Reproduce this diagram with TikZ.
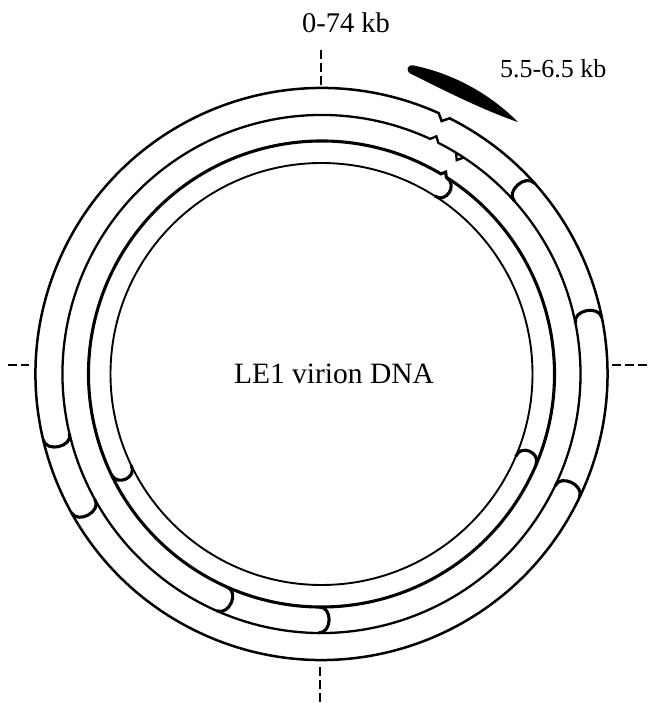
\documentclass[tikz,border=0pt]{standalone}
\usepackage{fontspec}
\setmainfont{Liberation Serif}
\begin{document}
\begin{tikzpicture}[x=1pt,y=1pt]
    \tikzstyle{ring}=[line width=2.5pt]; \tikzstyle{fragend}=[line width=3.1pt];
    \tikzstyle{axistick}=[line width=2pt,dash pattern=on 9pt off 4pt];
    \tikzstyle{kbtext}=[inner sep=0pt,anchor=base];
    \useasboundingbox (-321.5,-329) rectangle (325.5,374);

    \draw[ring] (65.8:286pt) arc[start angle=65.8,end angle=423.4,radius=286pt]
      -- (64.6:280pt) -- cycle;
    \draw[ring,line width=2.3pt] (65.2:259pt) arc[start angle=65.2,end angle=418.7,radius=259pt]
      -- (57.7:253pt) -- (56.7:259pt) arc[start angle=56.7,end angle=63.2,radius=259pt]
      -- (64.2:264pt) -- cycle;
    \draw[ring,line width=3.1pt] (59.2:233pt) arc[start angle=59.2,end angle=417.6,radius=233pt]
      -- (58.4:237pt) -- cycle;
    \draw[ring,line width=1.9pt] (0,0) circle[radius=211pt];

    \foreach \a/\ri/\ro/\s in {41.8/259/286/1, 11.3/259/286/1, -25.6/259/286/1,
        193.3/259/286/1, 209/259/286/1, 246.1/233/259/1, 269.4/233/259/1,
        -23/211/233/1, 205.6/211/233/1, 57.5/211/233/-1}
      \draw[fragend] (\a:\ro pt) .. controls ({\a+\s*780/\ro}:\ro pt) and ({\a+\s*780/\ri}:\ri pt) .. (\a:\ri pt);

    \fill (73.4:322pt) .. controls (66.3:328pt) and (59.1:327pt) .. (52:319.5pt)
      .. controls (59.1:309pt) and (66.3:309pt) .. (73.2:313pt)
      .. controls (74.6:314pt) and (74.6:321pt) .. cycle;

    \coordinate (n0) at (-1,324); \coordinate (n1) at (-1,286);
    \coordinate (s0) at (-1.5,-293); \coordinate (s1) at (-1.5,-329);
    \coordinate (w0) at (-313.5,9); \coordinate (w1) at (-292.5,9);
    \coordinate (e0) at (290.5,9); \coordinate (e1) at (325.5,9);
    \draw[axistick] (n0) -- (n1); \draw[axistick] (s0) -- (s1);
    \draw[axistick] (w0) -- (w1); \draw[axistick] (e0) -- (e1);

    \node (zero) [kbtext] at (24.5,341) {\fontsize{28.5}{30}\selectfont 0-74 kb};
    \node (frag) [kbtext,anchor=base west] at (178.5,296) {\fontsize{26}{28}\selectfont 5.5-6.5 kb};
    \node (dna) [kbtext] at (12.5,-9.3) {\fontsize{29.5}{32}\selectfont LE1 virion DNA};
\end{tikzpicture}
\end{document}
